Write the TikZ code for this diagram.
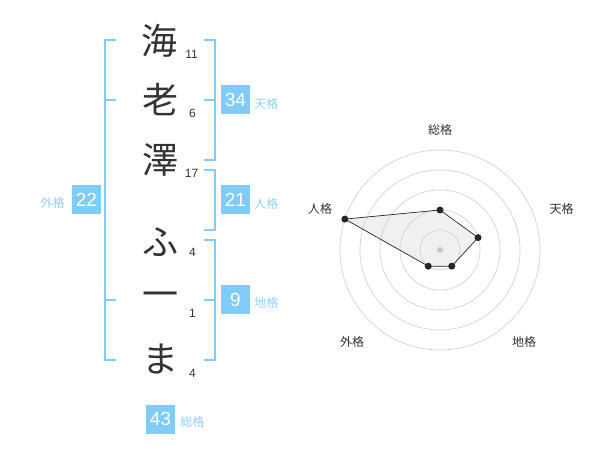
\documentclass[tikz,border=0pt]{standalone}
\usepackage{fontspec}
\setmainfont{Liberation Sans}
\newfontfamily\jp{Noto Sans CJK JP}
\usetikzlibrary{positioning}
\definecolor{kakublue}{HTML}{80CCF8}
\definecolor{kakutext}{HTML}{8ED2F4}
\definecolor{inkgray}{HTML}{333333}
\definecolor{ringgray}{HTML}{D2D2D2}
\definecolor{dotgray}{HTML}{C8C8C8}

\begin{document}
\begin{tikzpicture}[
  x=1pt,y=-1pt,
  char/.style={inner sep=0pt,text=inkgray,font=\jp\fontsize{36}{36}\selectfont},
  stroke/.style={inner sep=0pt,text=inkgray,font=\fontsize{12}{12}\selectfont},
  kakubox/.style={fill=kakublue,text=white,minimum size=29pt,inner sep=0pt,font=\fontsize{19}{19}\selectfont},
  kakulbl/.style={inner sep=0pt,text=kakutext,font=\jp\fontsize{12}{12}\selectfont},
  bracket/.style={draw=kakublue,line width=2pt},
  radarlbl/.style={inner sep=0pt,text=inkgray,font=\jp\fontsize{12}{12}\selectfont},
  ring/.style={draw=ringgray,line width=0.7pt}
]
\useasboundingbox (0,0) rectangle (600,470);
% name
\node[char] (K1) at (159,41) {海};
\node[char] (K2) at (160,100) {老};
\node[char] (K3) at (160,160) {澤};
\node[char] (K4) at (160,242) {ふ};
\node[char] (K5) at (160,300) {一};
\node[char] (K6) at (160,359) {ま};
\node[stroke] (S1) at (191.5,54) {11};
\node[stroke] (S2) at (192.5,113) {6};
\node[stroke] (S3) at (191.5,173) {17};
\node[stroke] (S4) at (192.5,252) {4};
\node[stroke] (S5) at (192.5,313) {1};
\node[stroke] (S6) at (192.5,373) {4};
% brackets
\draw[bracket] (116,40) -- (105,40) -- (105,360) -- (116,360);
\draw[bracket] (105,100) -- (116,100) (105,300) -- (116,300);
\draw[bracket] (204,40) -- (214.5,40) -- (214.5,160) -- (204,160);
\draw[bracket] (204,100) -- (214.5,100);
\draw[bracket] (204,170) -- (214.5,170) -- (214.5,230) -- (204,230);
\draw[bracket] (204,240) -- (214.5,240) -- (214.5,360) -- (204,360);
\draw[bracket] (204,300) -- (214.5,300);
% scores
\node[kakubox] (B22) at (86.5,200) {22};
\node[kakubox] (B34) at (235.5,100) {34};
\node[kakubox] (B21) at (235.5,200) {21};
\node[kakubox] (B9) at (235.5,300) {9};
\node[kakubox] (B43) at (160.5,419) {43};
\node[kakulbl,left=7pt of B22,yshift=-3pt] (L22) {外格};
\node[kakulbl,right=4pt of B34,yshift=-4pt] (L34) {天格};
\node[kakulbl,right=4pt of B21,yshift=-4pt] (L21) {人格};
\node[kakulbl,right=4pt of B9,yshift=-3pt] (L9) {地格};
\node[kakulbl,right=5pt of B43,yshift=-3pt] (L43) {総格};
% radar
\begin{scope}[shift={(440,250)}]
\coordinate (P1) at (-90:40);
\coordinate (P2) at (-18:40);
\coordinate (P3) at (54:20);
\coordinate (P4) at (126:20);
\coordinate (P5) at (198:100);
\fill[black!6] (P1) -- (P2) -- (P3) -- (P4) -- (P5) -- cycle;
\draw[ring] (0,0) circle (20) (0,0) circle (40) (0,0) circle (60)
  (0,0) circle (80) (0,0) circle (100);
\fill[dotgray] (0,0) circle (3);
\draw[black!85,line width=0.7pt] (P1) -- (P2) -- (P3) -- (P4) -- (P5) -- cycle;
\fill[black!85] (P1) circle (3.5) (P2) circle (3.5) (P3) circle (3.5)
  (P4) circle (3.5) (P5) circle (3.5);
\node[radarlbl] (R1) at (0,-120) {総格};
\node[radarlbl] (R2) at (121.5,-41.5) {天格};
\node[radarlbl] (R3) at (84,91.5) {地格};
\node[radarlbl] (R4) at (-88,91.5) {外格};
\node[radarlbl] (R5) at (-120,-41.5) {人格};
\end{scope}
\end{tikzpicture}
\end{document}
